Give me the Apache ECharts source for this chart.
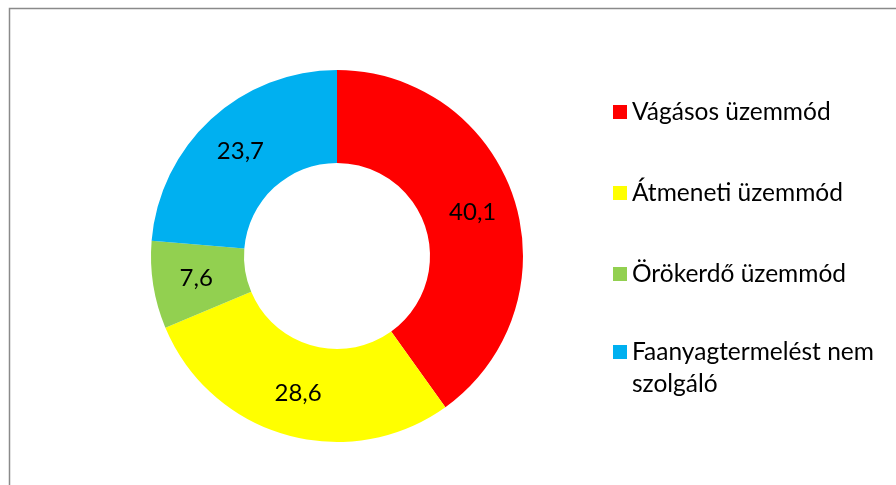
<!DOCTYPE html>
<html>
<head>
<meta charset="utf-8">
<style>
html,body{margin:0;padding:0;background:#fff;}
#chart{width:896px;height:485px;}
</style>
<script src="https://cdn.jsdelivr.net/npm/echarts@6/dist/echarts.min.js"></script>
</head>
<body>
<div id="chart"></div>
<script>
const categories = ['Vágásos üzemmód', 'Átmeneti üzemmód', 'Örökerdő üzemmód', 'Faanyagtermelést nem szolgáló'];
const legendText = ['Vágásos üzemmód', 'Átmeneti üzemmód', 'Örökerdő üzemmód', '\nFaanyagtermelést nem\nszolgáló'];
const values = [40.1, 28.6, 7.6, 23.7];
const colors = ['#FF0000', '#FFFF00', '#92D050', '#00B0F0'];

const FONT = 'Lato';
const chart = echarts.init(document.getElementById('chart'), null, {renderer: 'canvas'});

const legendFormatter = function (name) {
  return legendText[categories.indexOf(name)];
};

chart.setOption({
  animation: false,
  color: colors,
  graphic: [{
    type: 'rect',
    shape: {x: 9.5, y: 8.5, width: 1000, height: 1000},
    style: {fill: 'none', stroke: '#8a8a8a', lineWidth: 1.5},
    silent: true
  }],
  legend: [{
    orient: 'vertical',
    left: 613,
    top: 99.5,
    padding: 0,
    itemWidth: 14,
    itemHeight: 14,
    itemGap: 56,
    icon: 'rect',
    data: categories.slice(0, 3),
    formatter: legendFormatter,
    textStyle: {fontFamily: FONT, fontSize: 24.5, color: '#000', lineHeight: 24}
  }, {
    orient: 'vertical',
    left: 613,
    top: 304,
    padding: 0,
    itemWidth: 14,
    itemHeight: 14,
    icon: 'rect',
    data: categories.slice(3),
    formatter: legendFormatter,
    textStyle: {fontFamily: FONT, fontSize: 24.5, color: '#000', lineHeight: 32}
  }],
  series: [{
    type: 'pie',
    center: [337, 256],
    radius: [93, 186],
    startAngle: 90,
    clockwise: true,
    avoidLabelOverlap: false,
    label: {
      show: true,
      position: 'inside',
      color: '#000',
      fontFamily: FONT,
      fontSize: 24,
      formatter: function (p) { return p.value.toFixed(1).replace('.', ','); }
    },
    labelLine: {show: false},
    emphasis: {scale: false},
    itemStyle: {borderWidth: 0},
    data: categories.map(function (c, i) { return {name: c, value: values[i]}; })
  }]
});
</script>
</body>
</html>
